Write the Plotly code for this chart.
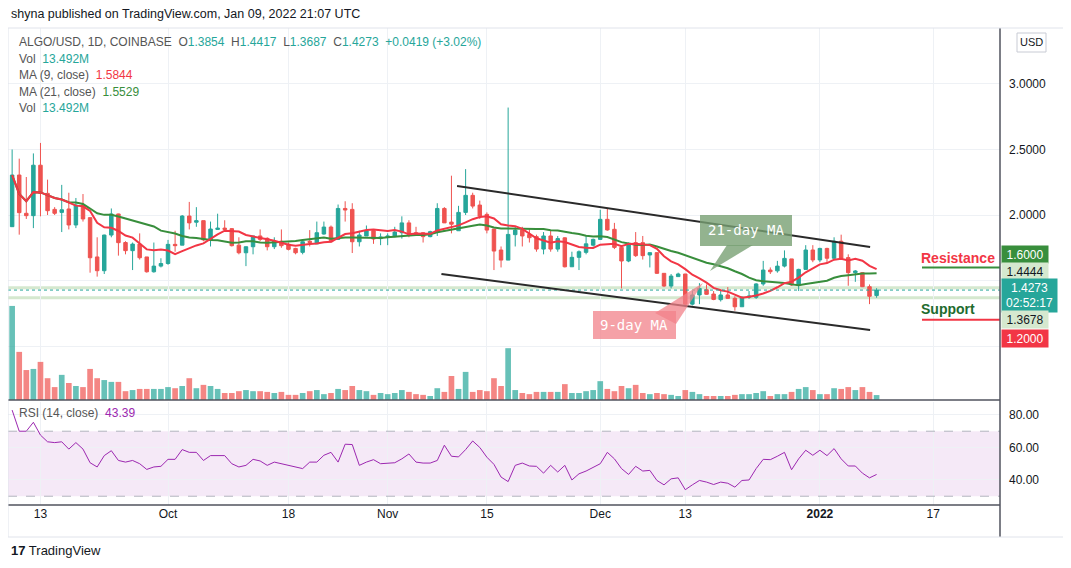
import numpy as np
import pandas as pd
import plotly.graph_objects as go

# ALGO/USD daily (Sep 9 2021 .. Jan 9 2022)
dates = pd.date_range("2021-09-09", "2022-01-09", freq="D")

opens = [1.911, 2.305, 2.013, 1.995, 2.38, 2.165, 2.043, 2.02, 2.046, 1.924,
         2.076, 1.98, 1.68, 1.575, 1.847, 2.008, 1.79, 1.728, 1.778, 1.68,
         1.567, 1.61, 1.63, 1.776, 1.77, 1.992, 1.945, 1.957, 1.81, 1.89,
         1.90, 1.896, 1.77, 1.712, 1.758, 1.84, 1.822, 1.758, 1.80, 1.778,
         1.745, 1.715, 1.80, 1.78, 1.855, 1.908, 1.814, 2.05, 2.043, 1.796,
         1.84, 1.88, 1.82, 1.83, 1.835, 1.865, 1.94, 1.865, 1.865, 1.835,
         1.868, 2.05, 1.946, 1.88, 2.02, 2.15, 2.076, 2.005, 1.893, 1.733,
         1.656, 1.85, 1.885, 1.852, 1.835, 1.74, 1.84, 1.74, 1.826, 1.605,
         1.677, 1.715, 1.77, 1.814, 1.967, 1.891, 1.753, 1.649, 1.789, 1.789,
         1.695, 1.713, 1.555, 1.458, 1.53, 1.55, 1.32, 1.39, 1.43, 1.397,
         1.354, 1.39, 1.364, 1.30, 1.372, 1.372, 1.474, 1.58, 1.574, 1.61,
         1.665, 1.466, 1.585, 1.733, 1.657, 1.745, 1.67, 1.80, 1.675, 1.56,
         1.56, 1.453, 1.3854]
highs = [2.50, 2.43, 2.29, 2.47, 2.55, 2.27, 2.06, 2.23, 2.17, 2.13,
         2.16, 1.98, 1.83, 1.85, 2.05, 2.01, 1.80, 1.79, 1.86, 1.68,
         1.79, 1.67, 1.81, 1.88, 2.0, 2.10, 2.06, 1.957, 1.95, 2.01,
         1.96, 1.90, 1.83, 1.76, 1.84, 1.89, 1.83, 1.83, 1.89, 1.79,
         1.75, 1.80, 1.885, 1.95, 1.95, 1.92, 2.08, 2.105, 2.09, 1.88,
         1.92, 1.88, 1.86, 1.86, 1.91, 1.99, 1.96, 1.91, 1.87, 1.88,
         2.09, 2.06, 2.30, 2.07, 2.35, 2.17, 2.11, 2.02, 1.893, 1.76,
         2.82, 1.91, 1.91, 1.90, 1.85, 1.87, 1.88, 1.84, 1.83, 1.72,
         1.73, 1.84, 1.82, 2.04, 2.05, 1.94, 1.77, 1.79, 1.87, 1.84,
         1.713, 1.713, 1.555, 1.55, 1.56, 1.55, 1.42, 1.48, 1.47, 1.42,
         1.42, 1.45, 1.38, 1.38, 1.42, 1.48, 1.65, 1.60, 1.65, 1.73,
         1.665, 1.59, 1.77, 1.77, 1.75, 1.75, 1.83, 1.85, 1.70, 1.58,
         1.56, 1.47, 1.4417]
lows = [1.91, 1.85, 1.97, 1.90, 1.99, 2.0, 2.0, 1.87, 1.89, 1.90,
        1.95, 1.56, 1.53, 1.55, 1.83, 1.69, 1.70, 1.58, 1.66, 1.56,
        1.56, 1.60, 1.62, 1.72, 1.77, 1.89, 1.91, 1.80, 1.76, 1.89,
        1.88, 1.76, 1.70, 1.61, 1.70, 1.80, 1.73, 1.74, 1.75, 1.73,
        1.70, 1.70, 1.76, 1.78, 1.85, 1.79, 1.81, 1.95, 1.71, 1.76,
        1.84, 1.78, 1.77, 1.77, 1.83, 1.82, 1.83, 1.84, 1.79, 1.83,
        1.84, 1.94, 1.86, 1.88, 2.0, 2.05, 1.97, 1.86, 1.58, 1.60,
        1.656, 1.76, 1.76, 1.79, 1.72, 1.70, 1.72, 1.72, 1.60, 1.605,
        1.58, 1.70, 1.76, 1.81, 1.88, 1.74, 1.44, 1.64, 1.68, 1.66,
        1.60, 1.55, 1.45, 1.44, 1.53, 1.31, 1.31, 1.32, 1.39, 1.35,
        1.34, 1.36, 1.27, 1.30, 1.36, 1.36, 1.46, 1.55, 1.56, 1.60,
        1.46, 1.42, 1.585, 1.64, 1.64, 1.64, 1.66, 1.66, 1.46, 1.49,
        1.45, 1.32, 1.3687]
closes = [2.305, 2.018, 1.995, 2.38, 2.165, 2.033, 2.013, 2.04, 1.924, 2.076,
          1.97, 1.674, 1.575, 1.847, 2.008, 1.789, 1.728, 1.778, 1.674, 1.567,
          1.61, 1.63, 1.776, 1.766, 1.992, 1.94, 1.957, 1.81, 1.893, 1.90,
          1.89, 1.766, 1.712, 1.758, 1.84, 1.814, 1.758, 1.80, 1.766, 1.738,
          1.712, 1.796, 1.79, 1.865, 1.908, 1.796, 2.05, 2.038, 1.796, 1.847,
          1.88, 1.817, 1.833, 1.84, 1.87, 1.94, 1.852, 1.847, 1.835, 1.873,
          2.05, 1.94, 1.93, 2.02, 2.15, 2.068, 1.992, 1.885, 1.725, 1.656,
          1.852, 1.885, 1.84, 1.827, 1.74, 1.84, 1.74, 1.82, 1.605, 1.677,
          1.72, 1.78, 1.814, 1.967, 1.886, 1.753, 1.649, 1.771, 1.69, 1.69,
          1.713, 1.555, 1.458, 1.534, 1.55, 1.32, 1.39, 1.44, 1.395, 1.356,
          1.39, 1.364, 1.30, 1.372, 1.382, 1.474, 1.58, 1.567, 1.61, 1.669,
          1.466, 1.585, 1.733, 1.657, 1.745, 1.67, 1.80, 1.67, 1.56, 1.573,
          1.453, 1.38, 1.4273]
volumes = [254, 130, 81, 84, 103, 59, 35, 68, 46, 38,
           35, 84, 59, 54, 49, 49, 24, 27, 30, 30,
           30, 30, 35, 32, 38, 59, 32, 41, 38, 30,
           19, 19, 24, 27, 24, 24, 22, 19, 22, 14,
           14, 19, 24, 27, 16, 19, 30, 27, 38, 27,
           24, 14, 19, 16, 19, 27, 22, 16, 14, 11,
           32, 22, 65, 30, 76, 22, 27, 24, 59, 38,
           140, 27, 19, 16, 22, 22, 22, 22, 43, 19,
           19, 24, 27, 51, 30, 24, 38, 32, 41, 19,
           16, 19, 16, 14, 11, 27, 22, 16, 11, 11,
           11, 11, 14, 16, 16, 19, 24, 11, 16, 16,
           22, 30, 35, 27, 16, 16, 32, 30, 35, 27,
           35, 22, 13.492]
rsi = [83, 70, 70, 75.5, 67.6, 63.5, 63, 63.5, 59, 63,
       59, 50.6, 48, 55, 58, 52, 51, 52, 50, 46.5,
       48, 48.4, 52.7, 52.7, 58.7, 57, 57, 52, 55, 55.2,
       55, 50, 48, 49, 52.7, 51.7, 49, 51, 50, 49,
       48, 47, 51, 51, 55.2, 57, 51, 62, 61.8, 49,
       51, 52.5, 50, 50.4, 50.6, 53, 56, 51, 50.4, 50.4,
       52, 61.4, 54.6, 54.2, 58.7, 64, 60, 54, 49.6, 41.8,
       39, 49, 50.4, 48.6, 48.4, 44.2, 49, 44.9, 49, 40,
       43.8, 45.5, 48, 50, 57, 53, 47, 43.4, 48.4, 45.5,
       45.9, 39.7, 37, 40.7, 41.3, 34, 37, 39.7, 38.7, 37.2,
       38.7, 38, 35.6, 39.7, 40, 47, 52.7, 52.5, 54.6, 57,
       46.3, 53, 58.3, 55.2, 58.3, 55, 59.3, 53, 48.6, 48.6,
       44.2, 41.3, 43.39]

# trend channel drawn on the chart
chan_upper_x = ["2021-11-10 19:00", "2022-01-08 02:00"]
chan_upper_y = [2.221, 1.756]
chan_lower_x = ["2021-11-08 14:00", "2022-01-08 02:00"]
chan_lower_y = [1.550, 1.122]

tick_dates = ["2021-09-13", "2021-10-01", "2021-10-18", "2021-11-01", "2021-11-15",
              "2021-12-01", "2021-12-13", "2022-01-01", "2022-01-17"]
tick_text = ["13", "Oct", "18", "Nov", "15", "Dec", "13", "<b>2022</b>", "17"]

TEAL = "#26a69a"
RED = "#ef5350"

close_s = pd.Series(closes)
ma9 = close_s.rolling(9, min_periods=1).mean()
ma21 = close_s.rolling(21, min_periods=1).mean()

vol_colors = ["rgba(38,166,154,0.7)" if c >= o else "rgba(239,83,80,0.7)" for o, c in zip(opens, closes)]

# page body has an 8px margin, so figure = window minus 8
W, H = 1063, 560
L, R, T, B = 0, 71, 20, 63
OFF = 8


def px(x):
    return (x - OFF - L) / (W - L - R)


def py(y):
    return (H - B - (y - OFF)) / (H - T - B)


fig = go.Figure()
fig.add_trace(go.Bar(x=dates, y=volumes, marker=dict(color=vol_colors, line=dict(width=0)),
                     yaxis="y2", xaxis="x", width=86400000 * 0.8))
fig.add_trace(go.Candlestick(x=dates, open=opens, high=highs, low=lows, close=closes,
                             increasing=dict(line=dict(color=TEAL, width=1), fillcolor=TEAL),
                             decreasing=dict(line=dict(color=RED, width=1), fillcolor=RED),
                             whiskerwidth=0, xaxis="x", yaxis="y"))
fig.add_trace(go.Scatter(x=dates, y=ma21, mode="lines", line=dict(color="#388e3c", width=2), xaxis="x", yaxis="y"))
fig.add_trace(go.Scatter(x=dates, y=ma9, mode="lines", line=dict(color="#f23645", width=2), xaxis="x", yaxis="y"))
fig.add_trace(go.Scatter(x=dates, y=rsi, mode="lines", line=dict(color="#9c27b0", width=1), xaxis="x2", yaxis="y3"))

grid = "#eef1f5"
xr = ["2021-09-08 10:00", "2022-01-26 10:00"]
fig.update_layout(
    width=W, height=H, margin=dict(l=L, r=R, t=T, b=B),
    paper_bgcolor="white", plot_bgcolor="white", showlegend=False,
    font=dict(family="Liberation Sans", size=12, color="#131722"),
    xaxis=dict(domain=[0, 1], anchor="y", range=xr, rangeslider=dict(visible=False),
               tickvals=tick_dates, showticklabels=False, showgrid=True, gridcolor=grid),
    xaxis2=dict(domain=[0, 1], anchor="y3", matches="x", range=xr, tickvals=tick_dates,
                ticktext=tick_text, showgrid=True, gridcolor=grid, ticks="",
                tickfont=dict(size=12, color="#131722")),
    yaxis=dict(domain=[0.22, 1], side="right", range=[0.588, 3.427],
               tickvals=[1.0, 1.5, 2.0, 2.5, 3.0],
               ticktext=["", "", "2.0000", "2.5000", "3.0000"],
               showgrid=True, gridcolor=grid, zeroline=False, ticks="", ticklabelstandoff=8),
    yaxis2=dict(overlaying="y", range=[0, 1004], visible=False),
    yaxis3=dict(domain=[0, 0.216], side="right", range=[24.6, 88], tickvals=[40, 60, 80],
                ticktext=["40.00", "60.00", "80.00"], showgrid=True, gridcolor=grid,
                zeroline=False, ticks="", ticklabelstandoff=8),
)

shapes = []
# RSI band
shapes.append(dict(type="rect", xref="x2 domain", yref="y3", x0=0, x1=1, y0=30, y1=70,
                   fillcolor="rgba(156,39,176,0.1)", line=dict(width=0), layer="below"))
for lv in (30, 70):
    shapes.append(dict(type="line", xref="x2 domain", yref="y3", x0=0, x1=1, y0=lv, y1=lv,
                       line=dict(color="#b2b5be", width=1, dash="dash")))
# horizontal levels
for lv in (1.4444, 1.3678):
    shapes.append(dict(type="line", xref="x domain", yref="y", x0=0, x1=1, y0=lv, y1=lv,
                       line=dict(color="#d5e8cf", width=3), layer="below"))
shapes.append(dict(type="line", xref="x domain", yref="y", x0=0, x1=1, y0=1.4273, y1=1.4273,
                   line=dict(color=TEAL, width=1, dash="dot")))
shapes.append(dict(type="line", xref="paper", yref="y", x0=px(922), x1=1, y0=1.6, y1=1.6,
                   line=dict(color="#388e3c", width=2)))
shapes.append(dict(type="line", xref="paper", yref="y", x0=px(922), x1=1, y0=1.2, y1=1.2,
                   line=dict(color="#f23645", width=2)))
# channel
shapes.append(dict(type="line", xref="x", yref="y", x0=chan_upper_x[0], x1=chan_upper_x[1],
                   y0=chan_upper_y[0], y1=chan_upper_y[1], line=dict(color="#2a2a2a", width=2)))
shapes.append(dict(type="line", xref="x", yref="y", x0=chan_lower_x[0], x1=chan_lower_x[1],
                   y0=chan_lower_y[0], y1=chan_lower_y[1], line=dict(color="#2a2a2a", width=2)))
# callouts
shapes.append(dict(type="path", xref="paper", yref="paper",
                   path=f"M{px(727)},{py(245)} L{px(753)},{py(245)} L{px(710)},{py(271)} Z",
                   fillcolor="rgba(120,160,115,0.8)", line=dict(width=0)))
shapes.append(dict(type="rect", xref="paper", yref="paper", x0=px(700), x1=px(792), y0=py(246), y1=py(215),
                   fillcolor="rgba(120,160,115,0.8)", line=dict(width=0)))
shapes.append(dict(type="path", xref="paper", yref="paper",
                   path=f"M{px(655)},{py(313)} L{px(676)},{py(324)} L{px(703)},{py(283)} Z",
                   fillcolor="rgba(242,130,138,0.75)", line=dict(width=0)))
shapes.append(dict(type="rect", xref="paper", yref="paper", x0=px(593), x1=px(676), y0=py(339), y1=py(311),
                   fillcolor="rgba(242,130,138,0.75)", line=dict(width=0)))
# frame lines
shapes.append(dict(type="line", xref="paper", yref="paper", x0=0, x1=1, y0=py(400), y1=py(400),
                   line=dict(color="#50535e", width=1.5)))
shapes.append(dict(type="line", xref="paper", yref="paper", x0=0, x1=1, y0=0, y1=0,
                   line=dict(color="#50535e", width=1.5)))
shapes.append(dict(type="line", xref="paper", yref="paper", x0=1, x1=1, y0=py(537), y1=1,
                   line=dict(color="#50535e", width=1.5)))
shapes.append(dict(type="rect", xref="paper", yref="paper", x0=px(8), x1=px(1064), y0=py(537), y1=1,
                   line=dict(color="#e0e3eb", width=1)))
shapes.append(dict(type="rect", xref="paper", yref="paper", x0=px(1017), x1=px(1046), y0=py(52), y1=py(33),
                   line=dict(color="#c8cbd4", width=1)))
fig.update_layout(shapes=shapes)

ann = []


def text(x, y, s, size=12, color="#131722", anchor="left", family="Liberation Sans", bg=None, w=None, h=None):
    d = dict(xref="paper", yref="paper", x=px(x), y=py(y), text=s, showarrow=False,
             xanchor=anchor, yanchor="middle", font=dict(size=size, color=color, family=family))
    if bg:
        d.update(bgcolor=bg, width=w, height=h, align="center")
    ann.append(d)


text(9, 14, "shyna published on TradingView.com, Jan 09, 2022 21:07 UTC", 12.5)
g = TEAL
text(17, 42, "<span style='color:#555'>ALGO/USD, 1D, COINBASE</span>  "
     f"<span style='color:{g}'><span style='color:#555'>O</span>1.3854  <span style='color:#555'>H</span>1.4417  "
     f"<span style='color:#555'>L</span>1.3687  <span style='color:#555'>C</span>1.4273  +0.0419 (+3.02%)</span>")
text(17, 59, f"<span style='color:#555'>Vol</span>  <span style='color:{g}'>13.492M</span>")
text(17, 75, "<span style='color:#555'>MA (9, close)</span>  <span style='color:#f23645'>1.5844</span>")
text(17, 92, "<span style='color:#555'>MA (21, close)</span>  <span style='color:#388e3c'>1.5529</span>")
text(17, 108, f"<span style='color:#555'>Vol</span>  <span style='color:{g}'>13.492M</span>")
text(17, 413, "<span style='color:#555'>RSI (14, close)</span>  <span style='color:#9c27b0'>43.39</span>")
text(1031, 42, "USD", 11, anchor="center")
text(746, 230, "21-day MA", 14, "white", "center", "DejaVu Sans Mono")
text(634, 325, "9-day MA", 14, "white", "center", "DejaVu Sans Mono")
text(958, 258, "<b>Resistance</b>", 14, "#f23645", "center")
text(948, 309, "<b>Support</b>", 14, "#1e6b2e", "center")
text(1001, 255, "1.6000", 12, "white", bg="#388e3c", w=44, h=15)
text(1001, 271, "1.4444", 12, "#131722", bg="#d5e8cf", w=44, h=15)
text(1001, 295, "1.4273<br>02:52:17", 12, "white", bg=TEAL, w=53, h=31)
text(1001, 319, "1.3678", 12, "#131722", bg="#d5e8cf", w=44, h=15)
text(1001, 338, "1.2000", 12, "white", bg="#f23645", w=44, h=15)
text(9, 550, "<b>17</b> TradingView", 13, "#131722")
fig.update_layout(annotations=ann)

fig.write_html("out.html")
